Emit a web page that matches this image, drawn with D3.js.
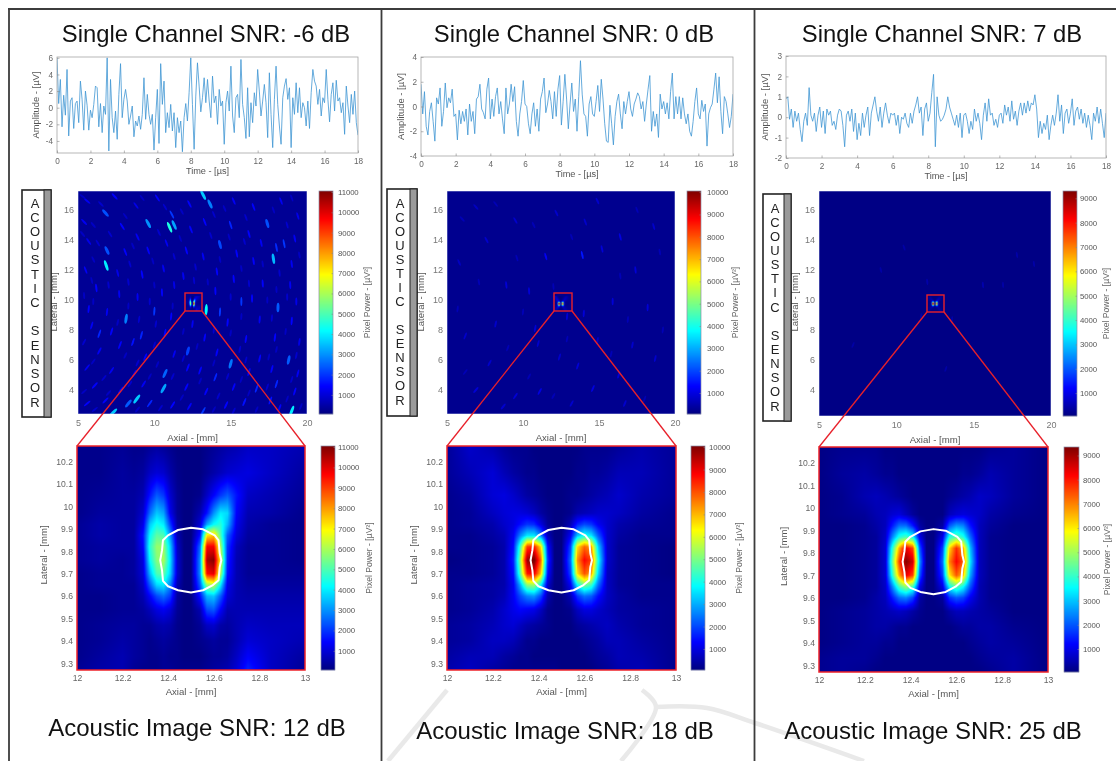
<!DOCTYPE html>
<html><head><meta charset="utf-8">
<script src="https://cdn.jsdelivr.net/npm/d3@7/dist/d3.min.js"></script>
<style>
html,body{margin:0;padding:0;background:#fff}
svg{display:block;font-family:"Liberation Sans",Arial,sans-serif;filter:blur(0.55px)}
</style></head><body><div id="chart"></div>
<script>
// ---------- data ----------
const signalA=[6,.5,3.4,-2.3,1.5,-.9,4.6,-3.4,.8,1.2,-2.5,.5,.8,-1.8,3.2,1,-2.7,2,.3,-2.7,-.3,-1.2,.4,2.6,2.4,-2.3,.5,-3,.2,-.8,6,-5.2,3.4,-1.2,-3,-.4,-3.8,1.6,5.3,-1.2,1,2.2,.8,-2,-1,.2,-3.5,-1.6,-2.2,-1,-2.6,-.8,3.6,-1.4,1.6,-.8,-2,-.8,-5.1,-1.2,2.2,-4.3,5.3,.4,3.2,-3,-.6,-2.4,.4,-2.8,-.6,-4.8,-1.2,-3,-1.6,-5.3,-1.2,.5,-1.6,1.8,6,.4,-5,1.4,5.4,2.6,-.5,1.2,3.6,.6,3.4,.8,-1.2,3.8,.6,1.4,-2,2.2,.2,.8,-4.4,.6,2,-.4,5,-1,-3,1.2,1.6,-1.2,5.8,.4,-1.2,-3.7,2.4,-3.5,.6,-1.8,1.8,.2,4.6,2,-1,.8,2.8,.6,-3.6,4.2,-.8,-4.8,1,5,.4,-2.2,-4.4,1.2,2.6,3.5,1,2.4,-4.8,1.2,-.8,3,-.6,2.4,-1.2,.6,0,-2.2,.8,-2.5,1.8,4.6,3.2,2.6,.4,2.2,-1,1.2,.6,4.6,1,-1.7,1.6,3,-.4,3.3,.8,1.2,-.6,.6,-3.2,2.6,.2,-1.8,1.6,-.8,2,-1.8,-3.3];
const signalB=[1.8,-.6,1.2,-1.6,-2.3,-.4,.3,-1.2,-2.8,.7,.2,1.5,-1.6,-.4,1.9,-.1,.7,.3,1.4,-.8,-.6,-2.7,-.3,-1.4,-.4,-1.2,-.2,-2.3,.2,-1.2,-.4,-2.2,.6,.8,1.8,-.2,-.5,-1,1.4,2.3,-1,.6,-.8,.8,1.5,-.6,.4,-1,-2.2,1.5,-.6,.2,1.8,.4,1.6,-1.2,-2.4,-.6,.4,2.1,.2,0,-1.4,-2.2,-.6,.3,-1.6,-.2,-2,.6,1.2,2.3,-.5,.2,1.3,.4,-1,1.2,-.8,1.4,2.5,-1.5,.4,2.6,.6,-1.8,.2,1.9,-.4,.6,-2,.8,3.7,1,-.6,-.8,-2.4,.2,.8,-.6,-.8,.4,1.7,-.4,2.2,.6,-1.4,-2.8,-2.9,.1,-1.4,-3.1,-.8,.4,1,-.6,-1.8,.4,-.6,.4,1.2,-.2,-.8,.2,.6,1.1,.8,-.2,.4,-1.2,.2,1.4,2.5,-2,-.4,-1.6,-.6,-2.5,1,-.2,.4,-.6,.3,-1,1.2,2.7,-1,.8,-.6,.8,-1,.7,-.6,-1.4,-.6,-2,-2.4,-1.2,.4,1.5,-.6,-1,.5,-.4,.2,-3.2,-.6,-.1,.2,1.4,2.7,.3,2.4,-.4,-2.2,.8,.4,-.6,-1.7,-.8,1];
const signalC=[.9,1,-.1,.4,-.5,.3,-.2,.2,-.6,-1.2,-.2,.2,-.4,1.45,.1,-.2,.2,-.7,.1,.5,-.5,.3,-.8,.4,.1,.3,-.4,-.2,-.6,.1,.4,.3,-.4,-1.45,.1,.3,-.2,.4,-.7,.2,-1.1,-.3,-.9,.2,-.5,.1,.5,-.9,.2,.6,1,.3,-.2,.5,-.5,.2,.7,.1,-.3,.2,.1,.2,-.4,.1,-.8,0,-.1,.2,-.3,-.5,.2,-.3,.3,.6,1,.2,.5,-.9,.4,.7,-.2,.2,1.2,2.1,-1.45,1,.1,-.2,-.1,.1,.4,1,.5,.2,-.1,-.4,.1,-.5,.2,-1,.1,.2,-.2,-.8,-.2,-.6,.4,-.2,.2,-.3,-1.1,.1,.7,-.2,.9,.1,.2,-.4,-.1,-.5,.1,.2,-.3,.6,.1,.5,-.2,.8,-.1,.3,-.4,.3,.7,.1,.7,.2,.8,.3,.7,.6,1.1,.4,-1,-.2,-.8,-.3,-.6,.1,-1.1,-.4,.1,-.4,.2,1.1,-.2,.6,-.8,.2,.4,-.3,.2,.9,-.4,.3,.5,-.1,.4,-.3,.2,-.5,.1,-.4,-1.1,.2,-.2,.5,-.3,.4,-.3,-1,.2];
const timeStep=0.1;

const spotColumns=[12,12.1,12.2,12.25,12.29,12.32,12.35,12.38,12.41,12.44,12.47,12.5,12.54,12.57,12.6,12.63,12.66,12.7,12.75,12.85,13];
const spotRows=[10.27,10.15,10.05,9.97,9.92,9.87,9.82,9.76,9.7,9.65,9.6,9.54,9.47,9.4,9.33,9.27];
// pixel power, hundreds of uV^2
const spotA=[
[2,2,3,2,2,3,4,3,2,1,1,1,1,2,3,4,5,6,8,8,6],
[2,2,4,3,4,8,10,9,5,2,1,1,1,3,5,7,9,10,11,8,4],
[2,3,4,4,6,16,24,20,9,3,1,1,2,8,14,20,24,16,8,6,3],
[2,4,4,4,9,26,36,32,12,3,1,1,6,16,30,40,38,14,6,5,2],
[3,5,4,4,12,36,44,40,20,4,1,1,10,32,42,46,34,12,5,3,2],
[3,5,4,4,16,42,52,50,30,6,1,1,16,72,76,50,24,10,4,3,2],
[3,4,4,4,14,46,58,58,36,8,1,1,26,98,98,60,20,7,3,3,2],
[3,4,3,4,11,42,56,60,38,9,1,1,30,106,110,68,18,6,3,3,2],
[2,3,3,4,10,34,50,52,36,9,1,1,30,96,100,60,16,6,3,3,3],
[2,3,3,3,8,24,38,40,28,6,1,1,24,58,62,40,12,6,4,4,4],
[2,2,3,3,6,14,22,26,20,4,1,1,16,34,36,24,10,6,5,5,5],
[2,2,3,3,4,7,11,13,10,3,1,1,6,22,24,14,6,6,6,6,6],
[2,3,4,4,3,3,5,6,5,2,1,1,3,8,9,5,4,6,8,7,7],
[2,3,5,4,3,2,3,4,3,2,1,1,2,3,4,3,3,6,10,8,6],
[2,4,6,4,3,2,2,3,2,2,1,1,1,2,3,3,4,8,14,8,4],
[3,5,6,3,2,2,2,3,3,2,2,2,2,3,4,5,6,10,18,8,3]];
const spotB=[
[3,8,5,3,2,2,2,1,1,1,1,1,1,1,2,2,2,2,3,5,3],
[3,6,9,6,4,3,2,2,1,1,1,1,1,2,2,3,3,4,6,6,3],
[2,4,9,10,8,6,4,3,2,1,1,1,2,2,3,4,5,6,8,5,3],
[2,3,7,9,10,10,9,7,4,2,1,1,2,5,6,7,8,8,7,4,2],
[2,3,5,8,10,14,18,17,10,3,1,1,6,16,20,18,12,8,5,3,2],
[2,2,4,6,12,26,36,36,26,6,1,1,12,32,40,36,22,8,4,2,2],
[2,2,3,5,14,44,82,86,66,14,1,1,20,66,78,72,34,8,3,2,1],
[1,2,3,5,16,52,98,102,78,18,1,1,24,74,88,82,40,8,3,2,1],
[2,2,3,5,14,46,86,90,68,14,1,1,20,66,80,72,34,7,3,2,1],
[2,3,4,5,12,30,52,54,38,8,1,1,12,38,50,44,24,7,3,2,2],
[2,3,4,6,12,20,26,28,20,5,1,1,6,18,24,22,14,7,4,2,2],
[2,3,5,8,11,13,12,11,7,2,1,1,2,7,10,10,8,6,4,3,2],
[3,4,6,8,9,7,5,4,3,2,1,1,1,3,4,5,6,7,5,3,2],
[3,4,7,7,6,4,2,2,1,1,1,1,1,1,2,3,4,6,6,4,2],
[4,6,6,4,3,2,2,1,1,1,1,1,1,1,1,2,3,4,6,5,2],
[5,7,4,3,2,2,2,2,2,2,2,1,1,1,1,1,2,3,5,6,2]];
const spotC=[
[1,2,2,2,1,1,1,1,1,1,1,1,1,1,1,1,1,1,2,3,1],
[1,3,4,3,2,2,1,1,1,1,1,1,1,1,1,2,2,3,5,3,1],
[1,2,5,6,5,4,3,2,1,1,1,1,1,2,3,4,5,7,6,3,1],
[1,2,3,5,6,8,9,6,3,1,1,1,1,6,8,9,8,7,4,2,1],
[1,1,2,4,6,14,22,22,14,4,1,1,4,20,26,24,14,6,3,1,1],
[1,1,2,3,7,24,38,42,36,10,1,1,10,38,44,38,22,6,2,1,1],
[1,1,2,3,8,38,66,84,76,20,1,1,18,62,78,66,30,6,2,1,1],
[1,1,2,3,8,44,76,93,86,26,1,1,22,70,82,74,34,6,2,1,1],
[1,1,2,3,8,38,66,84,76,20,1,1,18,60,74,64,28,6,2,1,1],
[1,1,2,3,7,24,42,50,42,10,1,1,10,36,44,36,20,5,2,1,1],
[1,1,2,4,6,14,22,24,18,4,1,1,3,16,20,18,11,5,2,1,1],
[1,2,3,4,5,6,7,6,4,2,1,1,1,4,6,6,5,4,3,1,1],
[1,2,3,4,4,3,2,2,1,1,1,1,1,1,2,3,3,4,4,2,1],
[1,2,3,3,2,2,1,1,1,1,1,1,1,1,1,1,2,3,4,3,1],
[2,3,3,2,1,1,1,1,1,1,1,1,1,1,1,1,1,2,3,4,1],
[2,3,2,1,1,1,1,1,1,1,1,1,1,1,1,1,1,1,2,4,1]];

// [axial mm, lateral mm, pixel power]
const speckleA=[[6.8,15.8,2300],[9.6,15.1,3000],[11,14.85,4500],[11.3,15,3200],[11.15,15.7,2000],[13.2,17,3600],[13.65,16.4,2800],[17.4,15.1,2300],[14.3,13.7,2200],[15,15,1800],[6.9,13.3,2300],[6.85,12.3,4000],[17.8,12.75,3400],[18.5,13.75,2000],[18,13.5,1900],[13.4,9.35,4200],[8.15,8.75,2800],[10,9.25,2000],[18.1,9.5,2400],[15.7,9.9,2000],[14.3,9.2,2000],[9.15,7.65,1800],[8.6,7.2,1600],[6.4,7.75,1800],[7.75,7,1500],[12.2,6.6,2100],[15,5.75,2700],[13,5.3,1500],[10.7,5.1,2500],[10.6,4.1,3200],[8.85,3.4,3600],[8.3,3.1,2400],[7.3,2.5,3600],[19,2.6,4000],[18.8,6,2400],[14,4.85,1800],[16.7,4.1,1800],[18,4.4,1800],[13.2,2.6,2000],[9.7,3.1,1800],
[5.6,16.6,1300],[7.4,16.9,1400],[8.8,16.3,1200],[10.2,16.8,1400],[12.3,16.4,1400],[15.2,16.6,1300],[16.5,16.2,1400],[18.3,16.6,1300],[19.4,15.6,1200],[5.4,15.2,1300],[7.9,14.9,1500],[8.9,14.2,1300],[12.4,14.7,1400],[13.3,15.2,1500],[16.2,14.4,1400],[17,13.8,1300],[19.2,14.1,1300],[5.7,13.9,1200],[8.1,13.2,1400],[9.6,13.3,1400],[10.8,13.8,1300],[12.1,13.3,1500],[13.2,12.9,1300],[15.4,13.1,1400],[16.5,12.6,1400],[19,12.4,1300],[5.5,12,1300],[7.6,11.8,1200],[9.2,11.7,1500],[10.6,12.1,1300],[11.9,11.6,1300],[14.1,11.9,1400],[15.2,11.4,1500],[17.1,11.1,1400],[18.9,11,1300],[6.2,10.8,1500],[7.7,10.4,1300],[8.9,10.2,1300],[10.5,10.5,1400],[11.3,11,1200],[14,10.6,1400],[16.4,10.1,1400],[19.3,9.9,1200],[5.7,9.4,1400],[6.9,9.2,1300],[11.1,8.9,1400],[12.5,8.4,1300],[14.8,8.5,1500],[16.9,8.7,1300],[19,8.6,1500],[5.9,8.3,1300],[7.2,7.9,1400],[10.7,7.8,1500],[13.3,7.5,1400],[16,7.4,1400],[17.9,7.5,1500],[19.5,7.2,1200],[6.4,6.6,1300],[9.4,6.2,1400],[11.3,6.4,1300],[14.1,6.5,1400],[16.9,6.1,1400],[5.6,5.5,1300],[7.2,5.3,1300],[8.7,5.1,1400],[12.2,5.5,1500],[16.2,5.2,1500],[17.7,5.4,1400],[19.4,5.1,1300],[6.1,4.3,1400],[7.8,4,1500],[9.3,4.4,1300],[12.1,4.2,1500],[13.4,3.9,1400],[15.2,4.2,1400],[19.2,3.9,1400],[5.6,3.1,1400],[6.8,3.3,1400],[11.2,3,1500],[12.3,2.9,1400],[14.7,3,1500],[15.9,3.2,1600],[17.6,3.3,1600],[18.2,2.8,1400],
[5.3,16.9,800],[6.5,16.4,900],[8.1,15.6,800],[9.2,16.8,800],[10.7,16.2,900],[11.8,15.9,800],[13.9,15.7,900],[14.6,16.1,800],[16,15.5,900],[17.8,16,800],[19,16.8,800],[6,15,800],[7.1,14.4,900],[10.3,14.5,900],[11.7,14.1,800],[13.7,14.3,900],[14.9,14.2,800],[18.7,15,900],[5.3,14.4,800],[6.3,13.8,900],[8.6,13.6,800],[11.3,12.9,900],[14.3,12.7,800],[15.9,13.9,900],[17.1,12.4,800],[19.5,13,800],[6,12.7,800],[8.4,12.4,900],[9.9,12.6,800],[12.7,12.2,900],[15.7,12.1,800],[18.2,11.8,900],[5.9,11.3,800],[8.3,11.2,900],[10,11,800],[12.6,11.3,900],[13.5,11.2,800],[16.2,11.1,900],[18,10.7,800],[7,11,900],[5.4,10.3,800],[9.7,9.9,900],[11.2,9.6,800],[15,10.2,900],[17.4,10,800],[18.7,10.2,900],[6,9.9,800],[8.3,9.6,800],[9,8.7,900],[15.7,8.9,800],[17.7,8.8,900],[7.6,8.5,800],[10.1,8.4,900],[11.9,7.9,800],[13.9,8,900],[15,7.8,800],[18.6,7.9,800],[5.4,7.2,900],[8.1,6.3,800],[10,7,900],[12.8,6.9,800],[15.6,6.7,900],[18,6.7,800],[19.3,6.3,900],[6,5.9,800],[8.9,5.8,900],[10.2,5.7,800],[11.9,6.1,900],[13.9,5.8,800],[16,6,900],[17.5,6.2,800],[6.7,4.8,900],[9.7,4.9,800],[11.2,4.9,900],[13,4.6,800],[14.8,4.9,900],[15.7,4.7,800],[19,4.7,900],[5.4,3.9,800],[7,3.8,800],[8.4,4.4,900],[11.8,3.5,800],[14.2,3.6,900],[16.2,3.8,800],[17.4,4.2,900],[18.7,3.4,800],[6.1,2.7,900],[8.9,2.7,800],[10.4,2.8,900],[13.9,2.7,800],[15.2,2.6,900],[16.7,2.7,800],[19.6,2.9,800]];
const speckleB=[[13.9,13,1500],[11.5,12.9,1200],[16.4,14.2,1000],[15.2,13.4,900],[14.1,15.2,800],[9.5,15.3,800],[7.6,14,800],[12.2,15.8,800],[17.4,12,900],[10.4,10.6,900],[8.9,11,900],[18.2,9.5,900],[15.9,9.9,900],[12.9,8.9,900],[14,9.1,900],[8.2,8.4,800],[10.8,8.1,900],[6.2,7.6,800],[14.9,7.3,800],[17.2,7,800],[6.9,4,900],[9.5,3.6,900],[11.1,3.9,1000],[14.6,4.1,1000],[13.6,5.6,900],[16.3,5,900],[12.4,6.2,800],[18.7,6.1,800],[7.8,5.8,800],[18.6,14.9,800],[5.8,12.5,700],[6.9,16.2,700],[14.9,16.6,800],[11,7.1,800],[8.7,2.9,800],[16.7,3.1,800],[13.2,3.1,800],[6,15.4,600],[8.2,16.4,600],[10.7,15,600],[13.2,14.2,600],[17.5,16,600],[19,13.2,600],[9.6,12.8,600],[7.1,11.2,600],[12,10.9,600],[16.4,11.6,600],[5.7,9.4,600],[10,9.2,600],[16.9,8.7,600],[19.2,8,600],[9,6.8,600],[12.9,7.4,600],[15.8,6.4,600],[6.2,5.2,600],[10.4,4.9,600],[12,3.6,600],[18,3.4,600]];
const speckleC=[[15.6,11,480],[12,11.2,440],[11.6,8.9,440],[13.6,8.7,440],[17.8,13,420],[18.9,12.4,420],[9,12,400],[7.2,7,400],[13.2,5.4,400],[10.5,13.5,400],[16.9,11,420]];

const panelTitles=["Single Channel SNR: -6 dB","Single Channel SNR: 0 dB","Single Channel SNR: 7 dB"];
const imageTitles=["Acoustic Image SNR: 12 dB","Acoustic Image SNR: 18 dB","Acoustic Image SNR: 25 dB"];
const sensorLetters=["A","C","O","U","S","T","I","C","","S","E","N","S","O","R"];
const timeTicks=[0,2,4,6,8,10,12,14,16,18];
const axialTicks=[5,10,15,20];
const lateralTicks=[4,6,8,10,12,14,16];
const spotAxialTicks=[12,12.2,12.4,12.6,12.8,13];
const spotLateralTicks=[9.3,9.4,9.5,9.6,9.7,9.8,9.9,10,10.1,10.2];
const ampTicksA=[-4,-2,0,2,4,6], ampTicksB=[-4,-2,0,2,4], ampTicksC=[-2,-1,0,1,2,3];
const powerTicksA=[1000,2000,3000,4000,5000,6000,7000,8000,9000,10000,11000];
const powerTicksB=[1000,2000,3000,4000,5000,6000,7000,8000,9000,10000];
const powerTicksC=[1000,2000,3000,4000,5000,6000,7000,8000,9000];
// outline of the focal spot [axial, lateral]
const ringOutline=[[12.5,9.905],[12.553,9.898],[12.604,9.871],[12.621,9.849],[12.626,9.79],[12.633,9.76],[12.626,9.73],[12.621,9.671],[12.596,9.649],[12.553,9.626],[12.5,9.616],[12.443,9.626],[12.399,9.644],[12.377,9.668],[12.373,9.715],[12.365,9.76],[12.373,9.805],[12.377,9.849],[12.399,9.871],[12.443,9.895]];
const jetStops=[0,.125,.375,.625,.875,1];
const jetColors=["#00007f","#0000ff","#00ffff","#ffff00","#ff0000","#7f0000"];

// ---------- layout ----------
const layout=[
 {title:206,image:197,imageBase:736,sig:signalA,ampT:ampTicksA,ampD:[-5.45,6.1],lx:[57,358],ly:[57,153],ampX:39,
  ov:[78,307,191,414],ovCb:[319,333,191,414],ovPower:[60,11050],ovLab:57,ovPow:370,ovTickL:338,spk:speckleA,bg:300,
  box:[185,202,293,311],zm:[77,305,446,670],zmCb:[321,335,446,670],zmPower:[60,11050],zmLab:47,zmPow:372,zmTickL:338,grid:spotA,pt:powerTicksA,
  sensor:[22,51,190,417],letterX:35,letters:[203,402]},
 {title:574,image:565,imageBase:739,sig:signalB,ampT:ampTicksB,ampD:[-4,4],lx:[421,733],ly:[57,156],ampX:404,
  ov:[447,675,191,414],ovCb:[687,701,191,414],ovPower:[60,10050],ovLab:424,ovPow:738,ovTickL:707,spk:speckleB,bg:220,
  box:[554,572,293,311],zm:[447,676,446,670],zmCb:[691,705,446,670],zmPower:[60,10050],zmLab:417,zmPow:742,zmTickL:709,grid:spotB,pt:powerTicksB,
  sensor:[387,417,189,416],letterX:400,letters:[203,400]},
 {title:942,image:933,imageBase:739,sig:signalC,ampT:ampTicksC,ampD:[-2,3],lx:[786,1106],ly:[56,158],ampX:768,
  ov:[819,1051,191,416],ovCb:[1063,1077,191,416],ovPower:[60,9300],ovLab:798,ovPow:1109,ovTickL:1080,spk:speckleC,bg:110,
  box:[927,944,295,312],zm:[819,1048,447,672],zmCb:[1064,1079,447,672],zmPower:[50,9350],zmLab:787,zmPow:1110,zmTickL:1083,grid:spotC,pt:powerTicksC,
  sensor:[763,791,194,421],letterX:775,letters:[208,406]}];

const W=1116,H=761;
const svg=d3.select("#chart").append("svg").attr("width",W).attr("height",H).attr("viewBox",[0,0,W,H]);
const defs=svg.append("defs");
defs.append("filter").attr("id","soft").attr("x","-10%").attr("y","-10%").attr("width","120%").attr("height","120%")
  .append("feGaussianBlur").attr("stdDeviation",0.6);
svg.append("rect").attr("width",W).attr("height",H).attr("fill","#fff");

// faint watermark behind everything
const watermark=[[[447,690],[388,761]],[[642,690],[656,707],[621,761]],[[656,707],[707,708],[755,723],[864,761]]];
svg.append("g").attr("fill","none").attr("stroke","#e9e9e9").attr("stroke-width",4.5)
 .selectAll("path").data(watermark).join("path").attr("d",d3.line().curve(d3.curveCatmullRom));

// frame lines
const frame=[[[8,9],[1116,9]],[[9,9],[9,761]],[[381.5,9],[381.5,761]],[[754.5,9],[754.5,761]]];
svg.append("g").attr("fill","none").attr("stroke","#3c3c3c").attr("stroke-width",1.8)
 .selectAll("path").data(frame).join("path").attr("d",d3.line());

function jet(domain){
  const [a,b]=domain;
  return d3.scaleLinear().domain(jetStops.map(s=>a+s*(b-a))).range(jetColors).clamp(true);
}
function styleAxis(g,color,size){
  g.attr("font-family",null).attr("font-size",size).attr("fill",color);
  g.select(".domain").remove();
  g.selectAll("text").attr("fill",color);
  g.selectAll(".tick line").attr("stroke","#888").attr("stroke-width",.6);
}
function label(x,y,text,size,rot,color){
  const t=svg.append("text").attr("font-size",size).attr("fill",color||"#555").attr("text-anchor","middle").text(text);
  if(rot) t.attr("transform",`translate(${x},${y}) rotate(-90)`); else t.attr("x",x).attr("y",y);
  return t;
}
// bilinear sampling over the read grid
function spotImage(grid,color,w,h){
  const cv=document.createElement("canvas");cv.width=w;cv.height=h;
  const ctx=cv.getContext("2d"),img=ctx.createImageData(w,h);
  const ax=d3.scaleLinear().domain([0,w]).range([12,13]);
  const lt=d3.scaleLinear().domain([0,h]).range([10.27,9.27]);
  const revRows=spotRows.map(d=>-d);
  for(let j=0;j<h;j++){
    const la=lt(j+.5);
    let r=Math.min(Math.max(d3.bisectRight(revRows,-la)-1,0),spotRows.length-2);
    const tr=(spotRows[r]-la)/(spotRows[r]-spotRows[r+1]);
    for(let i=0;i<w;i++){
      const a=ax(i+.5);
      let c=Math.min(Math.max(d3.bisectRight(spotColumns,a)-1,0),spotColumns.length-2);
      const tc=(a-spotColumns[c])/(spotColumns[c+1]-spotColumns[c]);
      const top=grid[r][c]*(1-tc)+grid[r][c+1]*tc, bot=grid[r+1][c]*(1-tc)+grid[r+1][c+1]*tc;
      const rgb=d3.rgb(color((top*(1-tr)+bot*tr)*100));
      const k=(j*w+i)*4;img.data[k]=rgb.r;img.data[k+1]=rgb.g;img.data[k+2]=rgb.b;img.data[k+3]=255;
    }
  }
  ctx.putImageData(img,0,0);
  return cv.toDataURL();
}
function colorbar(box,domain,ticks,tickL,powX){
  const [x0,x1,y0,y1]=box;
  const y=d3.scaleLinear().domain(domain).range([y1,y0]);
  const color=jet(domain);
  const levels=d3.range(y1-y0).map(i=>y.invert(y1-i-.5));
  svg.append("g").selectAll("rect").data(levels).join("rect")
    .attr("x",x0).attr("width",x1-x0).attr("y",d=>y(d)-.5).attr("height",1.2).attr("fill",d=>color(d));
  svg.append("rect").attr("x",x0).attr("y",y0).attr("width",x1-x0).attr("height",y1-y0).attr("fill","none").attr("stroke","#8a8fa8").attr("stroke-width",.7);
  const g=svg.append("g").attr("transform",`translate(${x1},0)`).call(d3.axisRight(y).tickValues(ticks).tickSize(-1.5).tickPadding(tickL-x1).tickFormat(d3.format("d")));
  styleAxis(g,"#555",7.8);
  g.selectAll("text").attr("letter-spacing",-.1);
  svg.append("text").attr("transform",`translate(${powX},${(y0+y1)/2}) rotate(-90)`).attr("text-anchor","middle").attr("font-size",8.6).attr("fill","#666")
    .text("Pixel Power - [µV²]");
}

layout.forEach((p,idx)=>{
  // title
  label(p.title,41.5,panelTitles[idx],23.8,false,"#111");
  label(p.image,p.imageBase,imageTitles[idx],24,false,"#111");

  // signal
  const xS=d3.scaleLinear().domain([0,18]).range(p.lx);
  const yS=d3.scaleLinear().domain(p.ampD).range([p.ly[1],p.ly[0]]);
  const sg=svg.append("g");
  const clipId="c"+idx;
  defs.append("clipPath").attr("id",clipId).append("rect").attr("x",p.lx[0]).attr("y",p.ly[0]).attr("width",p.lx[1]-p.lx[0]).attr("height",p.ly[1]-p.ly[0]);
  sg.append("path").datum(p.sig).attr("clip-path",`url(#${clipId})`).attr("fill","none").attr("stroke","#3f95d3").attr("stroke-width",.8).attr("stroke-linejoin","round")
    .attr("d",d3.line().x((d,i)=>xS(i*timeStep)).y(d=>yS(d)));
  sg.append("rect").attr("x",p.lx[0]).attr("y",p.ly[0]).attr("width",p.lx[1]-p.lx[0]).attr("height",p.ly[1]-p.ly[0]).attr("fill","none").attr("stroke","#a5a5a5").attr("stroke-width",.8);
  const gx=svg.append("g").attr("transform",`translate(0,${p.ly[1]})`).call(d3.axisBottom(xS).tickValues(timeTicks).tickSize(-2.5).tickPadding(5).tickFormat(d=>String(d)));
  styleAxis(gx,"#666",8.2);
  const gy=svg.append("g").attr("transform",`translate(${p.lx[0]},0)`).call(d3.axisLeft(yS).tickValues(p.ampT).tickSize(-2.5).tickPadding(4).tickFormat(d=>String(d)));
  styleAxis(gy,"#666",8.2);
  label((p.lx[0]+p.lx[1])/2,p.ly[1]+21,"Time - [µs]",9.2,false,"#555");
  label(p.ampX,(p.ly[0]+p.ly[1])/2,"Amplitude - [µV]",9.4,true,"#555");

  // overview map
  const [ox0,ox1,oy0,oy1]=p.ov;
  const xO=d3.scaleLinear().domain([5,20]).range([ox0,ox1]);
  const yO=d3.scaleLinear().domain([(oy1-300)/-15+10,(oy0-300)/-15+10]).range([oy1,oy0]);
  const colorO=jet(p.ovPower);
  defs.append("clipPath").attr("id","o"+idx).append("rect").attr("x",ox0).attr("y",oy0).attr("width",ox1-ox0).attr("height",oy1-oy0);
  const ov=svg.append("g").attr("clip-path",`url(#o${idx})`);
  ov.append("rect").attr("x",ox0).attr("y",oy0).attr("width",ox1-ox0).attr("height",oy1-oy0).attr("fill",colorO(p.bg));
  const sensorX=xO(0),sensorY=yO(10);
  const rx=d3.scaleSqrt().domain([300,5000]).range([3,6]);
  ov.append("g").attr("filter","url(#soft)").selectAll("ellipse").data(p.spk).join("ellipse")
    .attr("rx",d=>rx(d[2])).attr("ry",d=>d[2]>2000?1.5:1).attr("fill",d=>colorO(d[2]))
    .attr("transform",d=>{
      const x=xO(d[0]),y=yO(d[1]);
      const ang=Math.atan2(y-sensorY,x-sensorX)*180/Math.PI+90;
      return `translate(${x},${y}) rotate(${ang})`;
    });
  ov.append("image").attr("x",xO(12)).attr("y",yO(10.27)).attr("width",xO(13)-xO(12)).attr("height",yO(9.27)-yO(10.27))
    .attr("preserveAspectRatio","none").attr("href",spotImage(p.grid,colorO,60,60));
  ov.append("rect").attr("x",ox0).attr("y",oy0).attr("width",ox1-ox0).attr("height",oy1-oy0).attr("fill","none").attr("stroke","#b6c0e6").attr("stroke-width",.7);
  const gox=svg.append("g").attr("transform",`translate(0,${oy1})`).call(d3.axisBottom(xO).tickValues(axialTicks).tickSize(0).tickPadding(6).tickFormat(d3.format("d")));
  styleAxis(gox,"#777",9);
  const goy=svg.append("g").attr("transform",`translate(${ox0},0)`).call(d3.axisLeft(yO).tickValues(lateralTicks).tickSize(0).tickPadding(4).tickFormat(d3.format("d")));
  styleAxis(goy,"#777",9);
  label((ox0+ox1)/2,oy1+27,"Axial - [mm]",9.6,false,"#555");
  label(p.ovLab,302,"Lateral - [mm]",9.6,true,"#555");
  colorbar(p.ovCb,p.ovPower,p.pt,p.ovTickL,p.ovPow);

  // zoom map
  const [zx0,zx1,zy0,zy1]=p.zm;
  const xZ=d3.scaleLinear().domain([12,13]).range([zx0,zx1]);
  const yZ=d3.scaleLinear().domain([9.27,10.27]).range([zy1,zy0]);
  const colorZ=jet(p.zmPower);
  svg.append("image").attr("x",zx0).attr("y",zy0).attr("width",zx1-zx0).attr("height",zy1-zy0).attr("preserveAspectRatio","none")
    .attr("href",spotImage(p.grid,colorZ,zx1-zx0,zy1-zy0));
  svg.append("path").datum(ringOutline).attr("fill","none").attr("stroke","#fff").attr("stroke-width",2).attr("stroke-linejoin","round")
    .attr("d",d3.line().x(d=>xZ(d[0])).y(d=>yZ(d[1])).curve(d3.curveLinearClosed));
  svg.append("rect").attr("x",zx0).attr("y",zy0).attr("width",zx1-zx0).attr("height",zy1-zy0).attr("fill","none").attr("stroke","#ee2228").attr("stroke-width",1.5);
  const gzx=svg.append("g").attr("transform",`translate(0,${zy1})`).call(d3.axisBottom(xZ).tickValues(spotAxialTicks).tickSize(0).tickPadding(5).tickFormat(d=>d));
  styleAxis(gzx,"#666",8.6);
  const gzy=svg.append("g").attr("transform",`translate(${zx0},0)`).call(d3.axisLeft(yZ).tickValues(spotLateralTicks).tickSize(0).tickPadding(4).tickFormat(d=>d));
  styleAxis(gzy,"#666",8.6);
  label((zx0+zx1)/2,zy1+25,"Axial - [mm]",9.6,false,"#555");
  label(p.zmLab,(zy0+zy1)/2-3,"Lateral - [mm]",9.6,true,"#555");
  colorbar(p.zmCb,p.zmPower,p.pt,p.zmTickL,p.zmPow);

  // red zoom guide
  const [bx0,bx1,by0,by1]=p.box;
  svg.append("rect").attr("x",bx0).attr("y",by0).attr("width",bx1-bx0).attr("height",by1-by0).attr("fill","none").attr("stroke","#e8202a").attr("stroke-width",1.4);
  svg.append("g").attr("stroke","#e8202a").attr("stroke-width",1.3).attr("fill","none").selectAll("path")
    .data([[[bx0,by1],[zx0,zy0]],[[bx1,by1],[zx1,zy0]]]).join("path").attr("d",d3.line());

  // sensor label
  const [sx0,sx1,sy0,sy1]=p.sensor;
  svg.append("rect").attr("x",sx0).attr("y",sy0).attr("width",sx1-sx0).attr("height",sy1-sy0).attr("fill","#fff").attr("stroke","#222").attr("stroke-width",1.6);
  svg.append("rect").attr("x",sx1-7).attr("y",sy0).attr("width",7).attr("height",sy1-sy0).attr("fill","#9a9a9a").attr("stroke","#222").attr("stroke-width",1);
  const ls=d3.scalePoint().domain(d3.range(sensorLetters.length)).range(p.letters);
  svg.append("g").attr("font-size",13).attr("fill","#222").attr("text-anchor","middle").selectAll("text").data(sensorLetters).join("text")
    .attr("x",p.letterX).attr("y",(d,i)=>ls(i)+4.5).text(d=>d);
});
</script></body></html>
